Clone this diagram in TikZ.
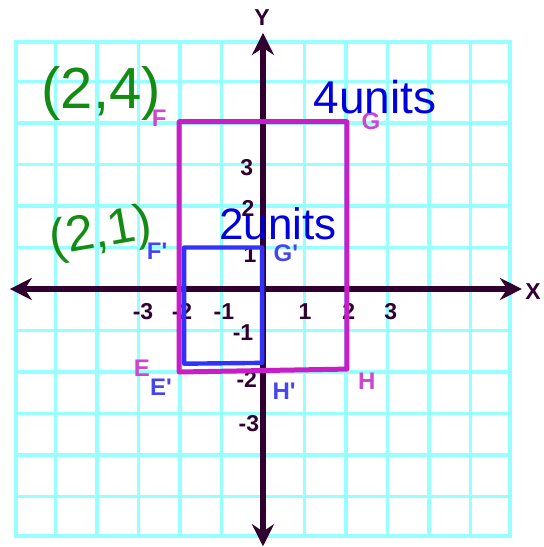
\documentclass[tikz,border=0pt]{standalone}
\usepackage{fontspec}
\setmainfont{Liberation Sans}
\usetikzlibrary{arrows.meta}
\definecolor{gridc}{RGB}{150,255,255}
\definecolor{axisc}{RGB}{48,0,48}
\definecolor{mag}{RGB}{200,30,200}
\definecolor{magl}{RGB}{205,70,205}
\definecolor{bluer}{RGB}{50,50,255}
\definecolor{bluel}{RGB}{70,70,240}
\definecolor{hblue}{RGB}{0,0,220}
\definecolor{hgreen}{RGB}{20,140,20}
\begin{document}
\begin{tikzpicture}[x=20.75pt,y=20.75pt,
  gridline/.style={draw=gridc,line width=1.8pt},
  axisline/.style={draw=axisc,line width=2.6pt,{Stealth[length=11pt,width=11pt]}-{Stealth[length=11pt,width=11pt]}},
  num/.style={font=\bfseries\fontsize{11.5}{13}\selectfont,text=axisc,inner sep=0pt},
  axlab/.style={font=\bfseries\fontsize{11.5}{13}\selectfont,text=axisc,inner sep=0pt},
  maglab/.style={font=\bfseries\fontsize{12}{14}\selectfont,text=magl,inner sep=0pt},
  bluelab/.style={font=\bfseries\fontsize{12}{14}\selectfont,text=bluel,inner sep=0pt},
  magrect/.style={draw=mag,line width=2.5pt,line join=round},
  bluerect/.style={draw=bluer,line width=2.2pt,line join=round},
  handg/.style={font=\fontsize{29}{31}\selectfont,text=hgreen,inner sep=0pt},
  handb/.style={font=\fontsize{23}{25}\selectfont,text=hblue,inner sep=0pt}
]
\useasboundingbox (-6.337,-6.217) rectangle (6.771,6.964);
\fill[white] (-6.337,-6.217) rectangle (6.771,6.964);
% grid
\foreach \i in {-5,...,5} {
  \draw[gridline] (\i,-5.95) -- (\i,5.95);
  \draw[gridline] (-5.95,\i) -- (5.95,\i);
}
\draw[gridline] (-5.95,-5.95) rectangle (5.95,5.95);
% axes
\coordinate (xl) at (-6.1,0);
\coordinate (xr) at (6.24,0);
\coordinate (yt) at (0,6.17);
\coordinate (yb) at (0,-6.2);
\draw[axisline] (xl) -- (xr);
\draw[axisline] (yb) -- (yt);
\node[axlab] (X) at (6.51,-0.07) {X};
\node[axlab] (Y) at (-0.02,6.55) {Y};
% tick numbers
\node[num] (xm3) at (-2.89,-0.55) {-3};
\node[num] (xm2) at (-1.95,-0.55) {-2};
\node[num] (xm1) at (-0.94,-0.55) {-1};
\node[num] (x1) at (1.01,-0.55) {1};
\node[num] (x2) at (2.07,-0.55) {2};
\node[num] (x3) at (3.08,-0.55) {3};
\node[num] (y3) at (-0.39,2.92) {3};
\node[num] (y2) at (-0.36,1.95) {2};
\node[num] (y1) at (-0.31,0.84) {1};
\node[num] (ym1) at (-0.48,-1.04) {-1};
\node[num] (ym2) at (-0.39,-2.19) {-2};
\node[num] (ym3) at (-0.34,-3.25) {-3};
% rectangles
\coordinate (E) at (-2.02,-2.0);
\coordinate (F) at (-2.02,4.03);
\coordinate (G) at (2.02,4.03);
\coordinate (H) at (2.02,-1.93);
\draw[magrect] (E) -- (F) -- (G) -- (H) -- cycle;
\coordinate (Ep) at (-1.9,-1.8);
\coordinate (Fp) at (-1.9,1.0);
\coordinate (Gp) at (-0.02,1.0);
\coordinate (Hp) at (-0.02,-1.78);
\draw[bluerect] (Ep) -- (Fp) -- (Gp) -- (Hp) -- cycle;
% vertex labels
\node[maglab] (lF) at (-2.5,4.12) {F};
\node[maglab] (lG) at (2.6,4.05) {G};
\node[maglab] (lE) at (-2.92,-1.9) {E};
\node[maglab] (lH) at (2.5,-2.22) {H};
\node[bluelab] (lFp) at (-2.55,0.92) {F\textquotesingle};
\node[bluelab] (lGp) at (0.55,0.87) {G\textquotesingle};
\node[bluelab] (lEp) at (-2.46,-2.36) {E\textquotesingle};
\node[bluelab] (lHp) at (0.51,-2.46) {H\textquotesingle};
% handwritten notes
\node[handg] (n24) at (-3.9,4.7) {(2,4)};
\node[handg,font=\fontsize{25}{27}\selectfont,rotate=10] (n21) at (-3.9,1.32) {(2,1)};
\node[handb] (u4) at (2.70,4.62) {4units};
\node[handb,font=\fontsize{22}{24}\selectfont] (u2) at (0.36,1.57) {2units};
\end{tikzpicture}
\end{document}
